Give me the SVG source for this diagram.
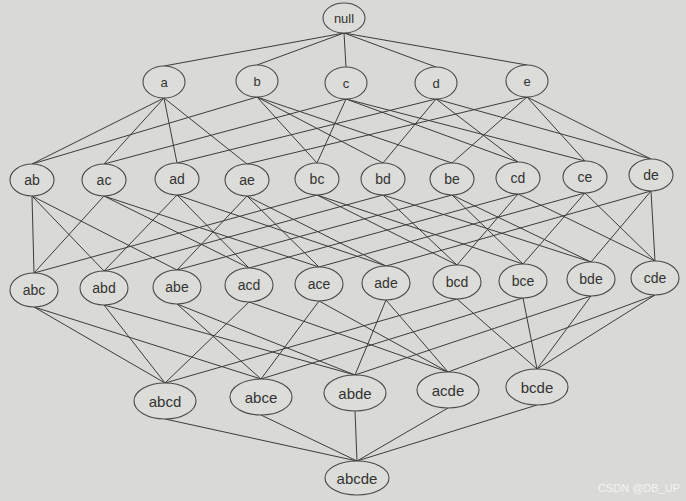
<svg xmlns="http://www.w3.org/2000/svg" width="686" height="501" viewBox="0 0 686 501">
<style>
.n ellipse{fill:#dcdcd8;stroke:#4a4a4a;stroke-width:1.1}
.n text{font-family:"Liberation Sans",Arial,sans-serif;fill:#333;text-anchor:middle;dominant-baseline:central}
.s1 text{font-size:13px}
.s2 text{font-size:14px}
.s3 text{font-size:14px}
.s4 text{font-size:15px}
#edges line{stroke:#3c3c3c;stroke-width:1}
</style>
<rect width="686" height="501" fill="#d9d9d5"/>
<g id="edges">
<line x1="344" y1="33" x2="164" y2="66"/>
<line x1="344" y1="33" x2="257" y2="65"/>
<line x1="344" y1="33" x2="346" y2="67"/>
<line x1="344" y1="33" x2="436" y2="67"/>
<line x1="344" y1="33" x2="527" y2="65"/>
<line x1="164" y1="98" x2="32" y2="164"/>
<line x1="164" y1="98" x2="104" y2="164"/>
<line x1="164" y1="98" x2="177" y2="163"/>
<line x1="164" y1="98" x2="247" y2="164"/>
<line x1="257" y1="97" x2="32" y2="164"/>
<line x1="257" y1="97" x2="317" y2="163"/>
<line x1="257" y1="97" x2="383" y2="163"/>
<line x1="257" y1="97" x2="452" y2="163"/>
<line x1="346" y1="99" x2="104" y2="164"/>
<line x1="346" y1="99" x2="317" y2="163"/>
<line x1="346" y1="99" x2="518" y2="162"/>
<line x1="346" y1="99" x2="585" y2="161"/>
<line x1="436" y1="99" x2="177" y2="163"/>
<line x1="436" y1="99" x2="383" y2="163"/>
<line x1="436" y1="99" x2="518" y2="162"/>
<line x1="436" y1="99" x2="651" y2="159"/>
<line x1="527" y1="97" x2="247" y2="164"/>
<line x1="527" y1="97" x2="452" y2="163"/>
<line x1="527" y1="97" x2="585" y2="161"/>
<line x1="527" y1="97" x2="651" y2="159"/>
<line x1="32" y1="196" x2="34" y2="273"/>
<line x1="32" y1="196" x2="104" y2="271"/>
<line x1="32" y1="196" x2="177" y2="270"/>
<line x1="104" y1="196" x2="34" y2="273"/>
<line x1="104" y1="196" x2="249" y2="268"/>
<line x1="104" y1="196" x2="319" y2="267"/>
<line x1="177" y1="195" x2="104" y2="271"/>
<line x1="177" y1="195" x2="249" y2="268"/>
<line x1="177" y1="195" x2="386" y2="266"/>
<line x1="247" y1="196" x2="177" y2="270"/>
<line x1="247" y1="196" x2="319" y2="267"/>
<line x1="247" y1="196" x2="386" y2="266"/>
<line x1="317" y1="195" x2="34" y2="273"/>
<line x1="317" y1="195" x2="457" y2="265"/>
<line x1="317" y1="195" x2="523" y2="264"/>
<line x1="383" y1="195" x2="104" y2="271"/>
<line x1="383" y1="195" x2="457" y2="265"/>
<line x1="383" y1="195" x2="591" y2="262"/>
<line x1="452" y1="195" x2="177" y2="270"/>
<line x1="452" y1="195" x2="523" y2="264"/>
<line x1="452" y1="195" x2="591" y2="262"/>
<line x1="518" y1="194" x2="249" y2="268"/>
<line x1="518" y1="194" x2="457" y2="265"/>
<line x1="518" y1="194" x2="655" y2="261"/>
<line x1="585" y1="193" x2="319" y2="267"/>
<line x1="585" y1="193" x2="523" y2="264"/>
<line x1="585" y1="193" x2="655" y2="261"/>
<line x1="651" y1="191" x2="386" y2="266"/>
<line x1="651" y1="191" x2="591" y2="262"/>
<line x1="651" y1="191" x2="655" y2="261"/>
<line x1="34" y1="307" x2="165" y2="383"/>
<line x1="34" y1="307" x2="261" y2="379"/>
<line x1="104" y1="305" x2="165" y2="383"/>
<line x1="104" y1="305" x2="355" y2="375"/>
<line x1="177" y1="304" x2="261" y2="379"/>
<line x1="177" y1="304" x2="355" y2="375"/>
<line x1="249" y1="302" x2="165" y2="383"/>
<line x1="249" y1="302" x2="448" y2="372"/>
<line x1="319" y1="301" x2="261" y2="379"/>
<line x1="319" y1="301" x2="448" y2="372"/>
<line x1="386" y1="300" x2="355" y2="375"/>
<line x1="386" y1="300" x2="448" y2="372"/>
<line x1="457" y1="299" x2="165" y2="383"/>
<line x1="457" y1="299" x2="537" y2="369"/>
<line x1="523" y1="298" x2="261" y2="379"/>
<line x1="523" y1="298" x2="537" y2="369"/>
<line x1="591" y1="296" x2="355" y2="375"/>
<line x1="591" y1="296" x2="537" y2="369"/>
<line x1="655" y1="295" x2="448" y2="372"/>
<line x1="655" y1="295" x2="537" y2="369"/>
<line x1="165" y1="419" x2="357" y2="461"/>
<line x1="261" y1="415" x2="357" y2="461"/>
<line x1="355" y1="411" x2="357" y2="461"/>
<line x1="448" y1="408" x2="357" y2="461"/>
<line x1="537" y1="405" x2="357" y2="461"/>
</g>
<g id="null" class="n s1"><ellipse cx="344" cy="18" rx="21" ry="15"/><text x="344" y="18" font-size="12">null</text></g>
<g id="a" class="n s1"><ellipse cx="164" cy="82" rx="21" ry="16"/><text x="164" y="82">a</text></g>
<g id="b" class="n s1"><ellipse cx="257" cy="81" rx="21" ry="16"/><text x="257" y="81">b</text></g>
<g id="c" class="n s1"><ellipse cx="346" cy="83" rx="21" ry="16"/><text x="346" y="83">c</text></g>
<g id="d" class="n s1"><ellipse cx="436" cy="83" rx="21" ry="16"/><text x="436" y="83">d</text></g>
<g id="e" class="n s1"><ellipse cx="527" cy="81" rx="21" ry="16"/><text x="527" y="81">e</text></g>
<g id="ab" class="n s2"><ellipse cx="32" cy="180" rx="22" ry="16"/><text x="32" y="180">ab</text></g>
<g id="ac" class="n s2"><ellipse cx="104" cy="180" rx="22" ry="16"/><text x="104" y="180">ac</text></g>
<g id="ad" class="n s2"><ellipse cx="177" cy="179" rx="22" ry="16"/><text x="177" y="179">ad</text></g>
<g id="ae" class="n s2"><ellipse cx="247" cy="180" rx="22" ry="16"/><text x="247" y="180">ae</text></g>
<g id="bc" class="n s2"><ellipse cx="317" cy="179" rx="22" ry="16"/><text x="317" y="179">bc</text></g>
<g id="bd" class="n s2"><ellipse cx="383" cy="179" rx="22" ry="16"/><text x="383" y="179">bd</text></g>
<g id="be" class="n s2"><ellipse cx="452" cy="179" rx="22" ry="16"/><text x="452" y="179">be</text></g>
<g id="cd" class="n s2"><ellipse cx="518" cy="178" rx="22" ry="16"/><text x="518" y="178">cd</text></g>
<g id="ce" class="n s2"><ellipse cx="585" cy="177" rx="22" ry="16"/><text x="585" y="177">ce</text></g>
<g id="de" class="n s2"><ellipse cx="651" cy="175" rx="22" ry="16"/><text x="651" y="175">de</text></g>
<g id="abc" class="n s3"><ellipse cx="34" cy="290" rx="24" ry="17"/><text x="34" y="290">abc</text></g>
<g id="abd" class="n s3"><ellipse cx="104" cy="288" rx="24" ry="17"/><text x="104" y="288">abd</text></g>
<g id="abe" class="n s3"><ellipse cx="177" cy="287" rx="24" ry="17"/><text x="177" y="287">abe</text></g>
<g id="acd" class="n s3"><ellipse cx="249" cy="285" rx="24" ry="17"/><text x="249" y="285">acd</text></g>
<g id="ace" class="n s3"><ellipse cx="319" cy="284" rx="24" ry="17"/><text x="319" y="284">ace</text></g>
<g id="ade" class="n s3"><ellipse cx="386" cy="283" rx="24" ry="17"/><text x="386" y="283">ade</text></g>
<g id="bcd" class="n s3"><ellipse cx="457" cy="282" rx="24" ry="17"/><text x="457" y="282">bcd</text></g>
<g id="bce" class="n s3"><ellipse cx="523" cy="281" rx="24" ry="17"/><text x="523" y="281">bce</text></g>
<g id="bde" class="n s3"><ellipse cx="591" cy="279" rx="24" ry="17"/><text x="591" y="279">bde</text></g>
<g id="cde" class="n s3"><ellipse cx="655" cy="278" rx="24" ry="17"/><text x="655" y="278">cde</text></g>
<g id="abcd" class="n s4"><ellipse cx="165" cy="401" rx="31" ry="18"/><text x="165" y="401">abcd</text></g>
<g id="abce" class="n s4"><ellipse cx="261" cy="397" rx="31" ry="18"/><text x="261" y="397">abce</text></g>
<g id="abde" class="n s4"><ellipse cx="355" cy="393" rx="31" ry="18"/><text x="355" y="393">abde</text></g>
<g id="acde" class="n s4"><ellipse cx="448" cy="390" rx="31" ry="18"/><text x="448" y="390">acde</text></g>
<g id="bcde" class="n s4"><ellipse cx="537" cy="387" rx="31" ry="18"/><text x="537" y="387">bcde</text></g>
<g id="abcde" class="n s4"><ellipse cx="357" cy="478" rx="32" ry="17"/><text x="357" y="478">abcde</text></g>
<text x="680" y="488" font-family="'Liberation Sans',Arial,sans-serif" font-size="11" fill="#f4f4f4" text-anchor="end" dominant-baseline="central">CSDN @DB_UP</text>
</svg>
